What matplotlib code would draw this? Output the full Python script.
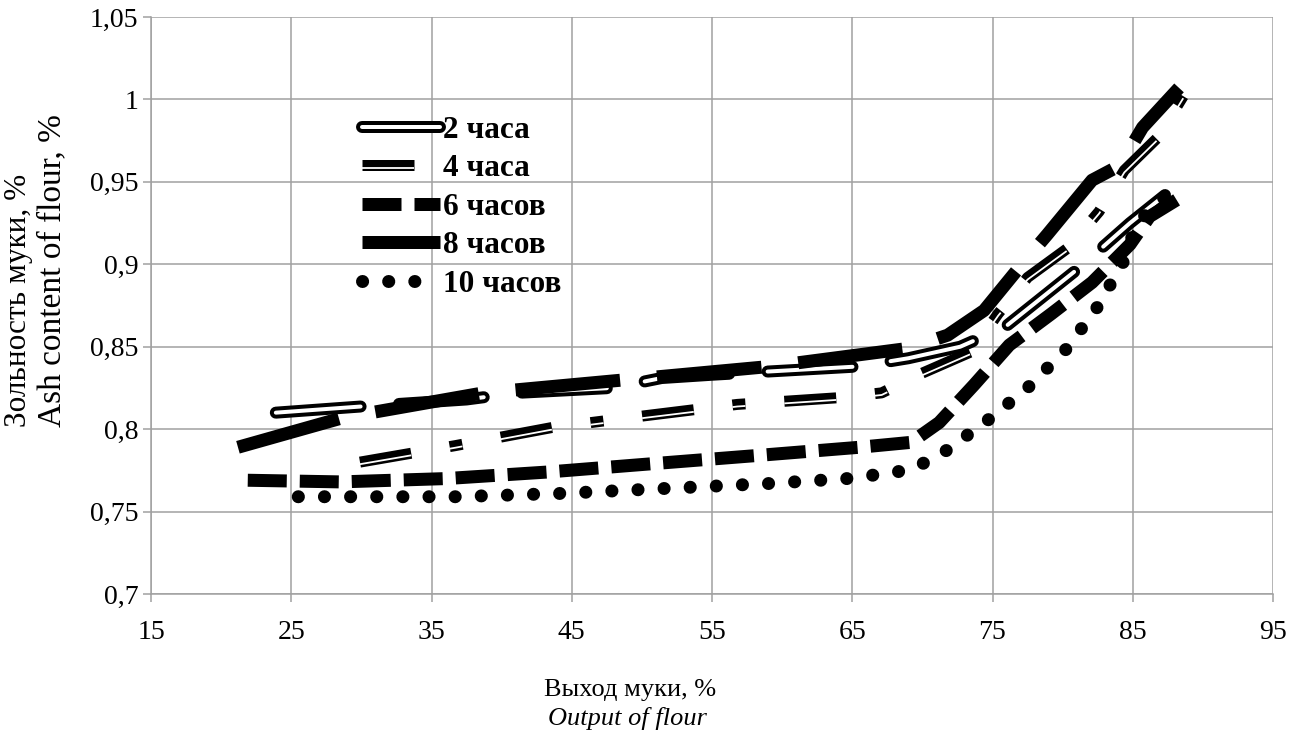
import numpy as np
import matplotlib
matplotlib.use("Agg")
import matplotlib.pyplot as plt
import matplotlib.patheffects as pe

plt.rcParams['font.family'] = ['Liberation Serif', 'DejaVu Serif']
plt.rcParams['lines.scale_dashes'] = False

PX = 0.72  # points per pixel at dpi 100

# values
x_2h = [23.9, 30.4, 37.5, 41.1, 47.9, 51.4, 55.0, 59.1, 65.4, 69.0, 72.7, 75.9, 81.2, 84.8, 87.3]
y_2h = [0.810, 0.814, 0.818, 0.822, 0.825, 0.831, 0.833, 0.835, 0.838, 0.843, 0.850, 0.862, 0.898, 0.925, 0.942]

x_4h = [29.9, 36.7, 43.6, 50.1, 56.8, 63.9, 67.1, 70.0, 73.5, 75.4, 77.5, 80.4, 82.6, 84.4, 86.8, 88.6]
y_4h = [0.780, 0.790, 0.801, 0.808, 0.815, 0.819, 0.822, 0.834, 0.847, 0.870, 0.892, 0.910, 0.932, 0.957, 0.977, 1.002]

x_6h = [21.9, 28.5, 36.0, 43.3, 50.7, 58.2, 65.5, 69.2, 71.2, 73.7, 76.2, 79.2, 82.1, 84.8, 86.2, 88.5]
y_6h = [0.769, 0.768, 0.770, 0.774, 0.779, 0.784, 0.789, 0.792, 0.804, 0.827, 0.851, 0.870, 0.889, 0.912, 0.929, 0.941]

x_8h = [21.2, 28.7, 38.7, 48.9, 59.1, 69.0, 71.8, 74.4, 76.9, 78.9, 82.1, 84.1, 85.7, 88.3]
y_8h = [0.789, 0.807, 0.822, 0.830, 0.838, 0.849, 0.857, 0.872, 0.898, 0.918, 0.951, 0.960, 0.983, 1.007]

x_10h = [25.5, 36.7, 44.2, 51.6, 59.0, 64.6, 68.2, 70.0, 71.7, 74.6, 77.5, 80.2, 82.4, 84.3, 85.3, 87.4]
y_10h = [0.759, 0.759, 0.761, 0.764, 0.767, 0.770, 0.774, 0.779, 0.787, 0.805, 0.825, 0.848, 0.873, 0.901, 0.925, 0.942]

labels = ['2 часа', '4 часа', '6 часов', '8 часов', '10 часов']
xticks = [15, 25, 35, 45, 55, 65, 75, 85, 95]
yticks = [0.7, 0.75, 0.8, 0.85, 0.9, 0.95, 1.0, 1.05]
ytick_labels = ['0,7', '0,75', '0,8', '0,85', '0,9', '0,95', '1', '1,05']

grid_col = '#a0a0a0'

fig = plt.figure(figsize=(12.93, 7.44), dpi=100)
ax = fig.add_axes([151/1293, 1-594/744, 1122/1293, 577/744])

# 2 hours: hollow long dash with round caps
ax.plot(x_2h, y_2h, color='black', lw=12*PX, dashes=(85*PX, 38.5*PX),
        dash_capstyle='round', solid_capstyle='round', label=labels[0], zorder=3,
        path_effects=[pe.Normal(), pe.Stroke(linewidth=4*PX, foreground='white')])
# 4 hours: double line, dash-dot
ax.plot(x_4h, y_4h, color='black', lw=11*PX, dashes=(52*PX, 39*PX, 13*PX, 39*PX),
        dash_capstyle='butt', label=labels[1], zorder=4,
        path_effects=[pe.Normal(), pe.Stroke(offset=(0, -1.5), linewidth=1.8*PX, foreground='white')])
# 6 hours: thick dash
ax.plot(x_6h, y_6h, color='black', lw=13*PX, dashes=(39*PX, 13*PX),
        dash_capstyle='butt', label=labels[2], zorder=5)
# 8 hours: thick long dash
ax.plot(x_8h, y_8h, color='black', lw=13*PX, dashes=(105*PX, 37*PX),
        dash_capstyle='butt', label=labels[3], zorder=6)
# 10 hours: round dots
ax.plot(x_10h, y_10h, color='black', lw=13*PX, dashes=(0.1, 26*PX),
        dash_capstyle='round', label=labels[4], zorder=7)

ax.set_xlim(15, 95)
ax.set_ylim(0.7, 1.05)
ax.set_xticks(xticks)
ax.set_xticklabels([str(v) for v in xticks])
ax.set_yticks(yticks)
ax.set_yticklabels(ytick_labels)
ax.grid(True, color=grid_col, lw=1.1)
ax.set_axisbelow(True)
for s in ['top', 'right']:
    ax.spines[s].set_visible(False)
for s in ['left', 'bottom']:
    ax.spines[s].set_color(grid_col)
    ax.spines[s].set_linewidth(1.1)
ax.tick_params(axis='both', colors=grid_col, labelcolor='black', labelsize=20,
               length=6, width=1.1)
ax.tick_params(axis='x', pad=13)
ax.tick_params(axis='y', pad=3)

leg = ax.legend(loc='upper left', bbox_to_anchor=((362-151)/1122, 1-(116-17)/577),
                frameon=False, borderpad=0, borderaxespad=0, handlelength=2.5,
                handletextpad=0.08, labelspacing=0.3,
                prop={'family': 'Liberation Serif', 'weight': 'bold', 'size': 22.5})

fig.text(19/1293, 1-427/744, 'Зольность муки, %', rotation=90,
         ha='center', va='bottom', fontsize=22.5)
fig.text(52/1293, 1-427/744, 'Ash content of flour, %', rotation=90,
         ha='center', va='bottom', fontsize=24)
fig.text(630/1293, 1-690/744, 'Выход муки, %', ha='center', va='center', fontsize=19)
fig.text(627/1293, 1-718/744, 'Output of flour', ha='center', va='center',
         fontsize=19, style='italic')

fig.savefig('out.png', dpi=100)
